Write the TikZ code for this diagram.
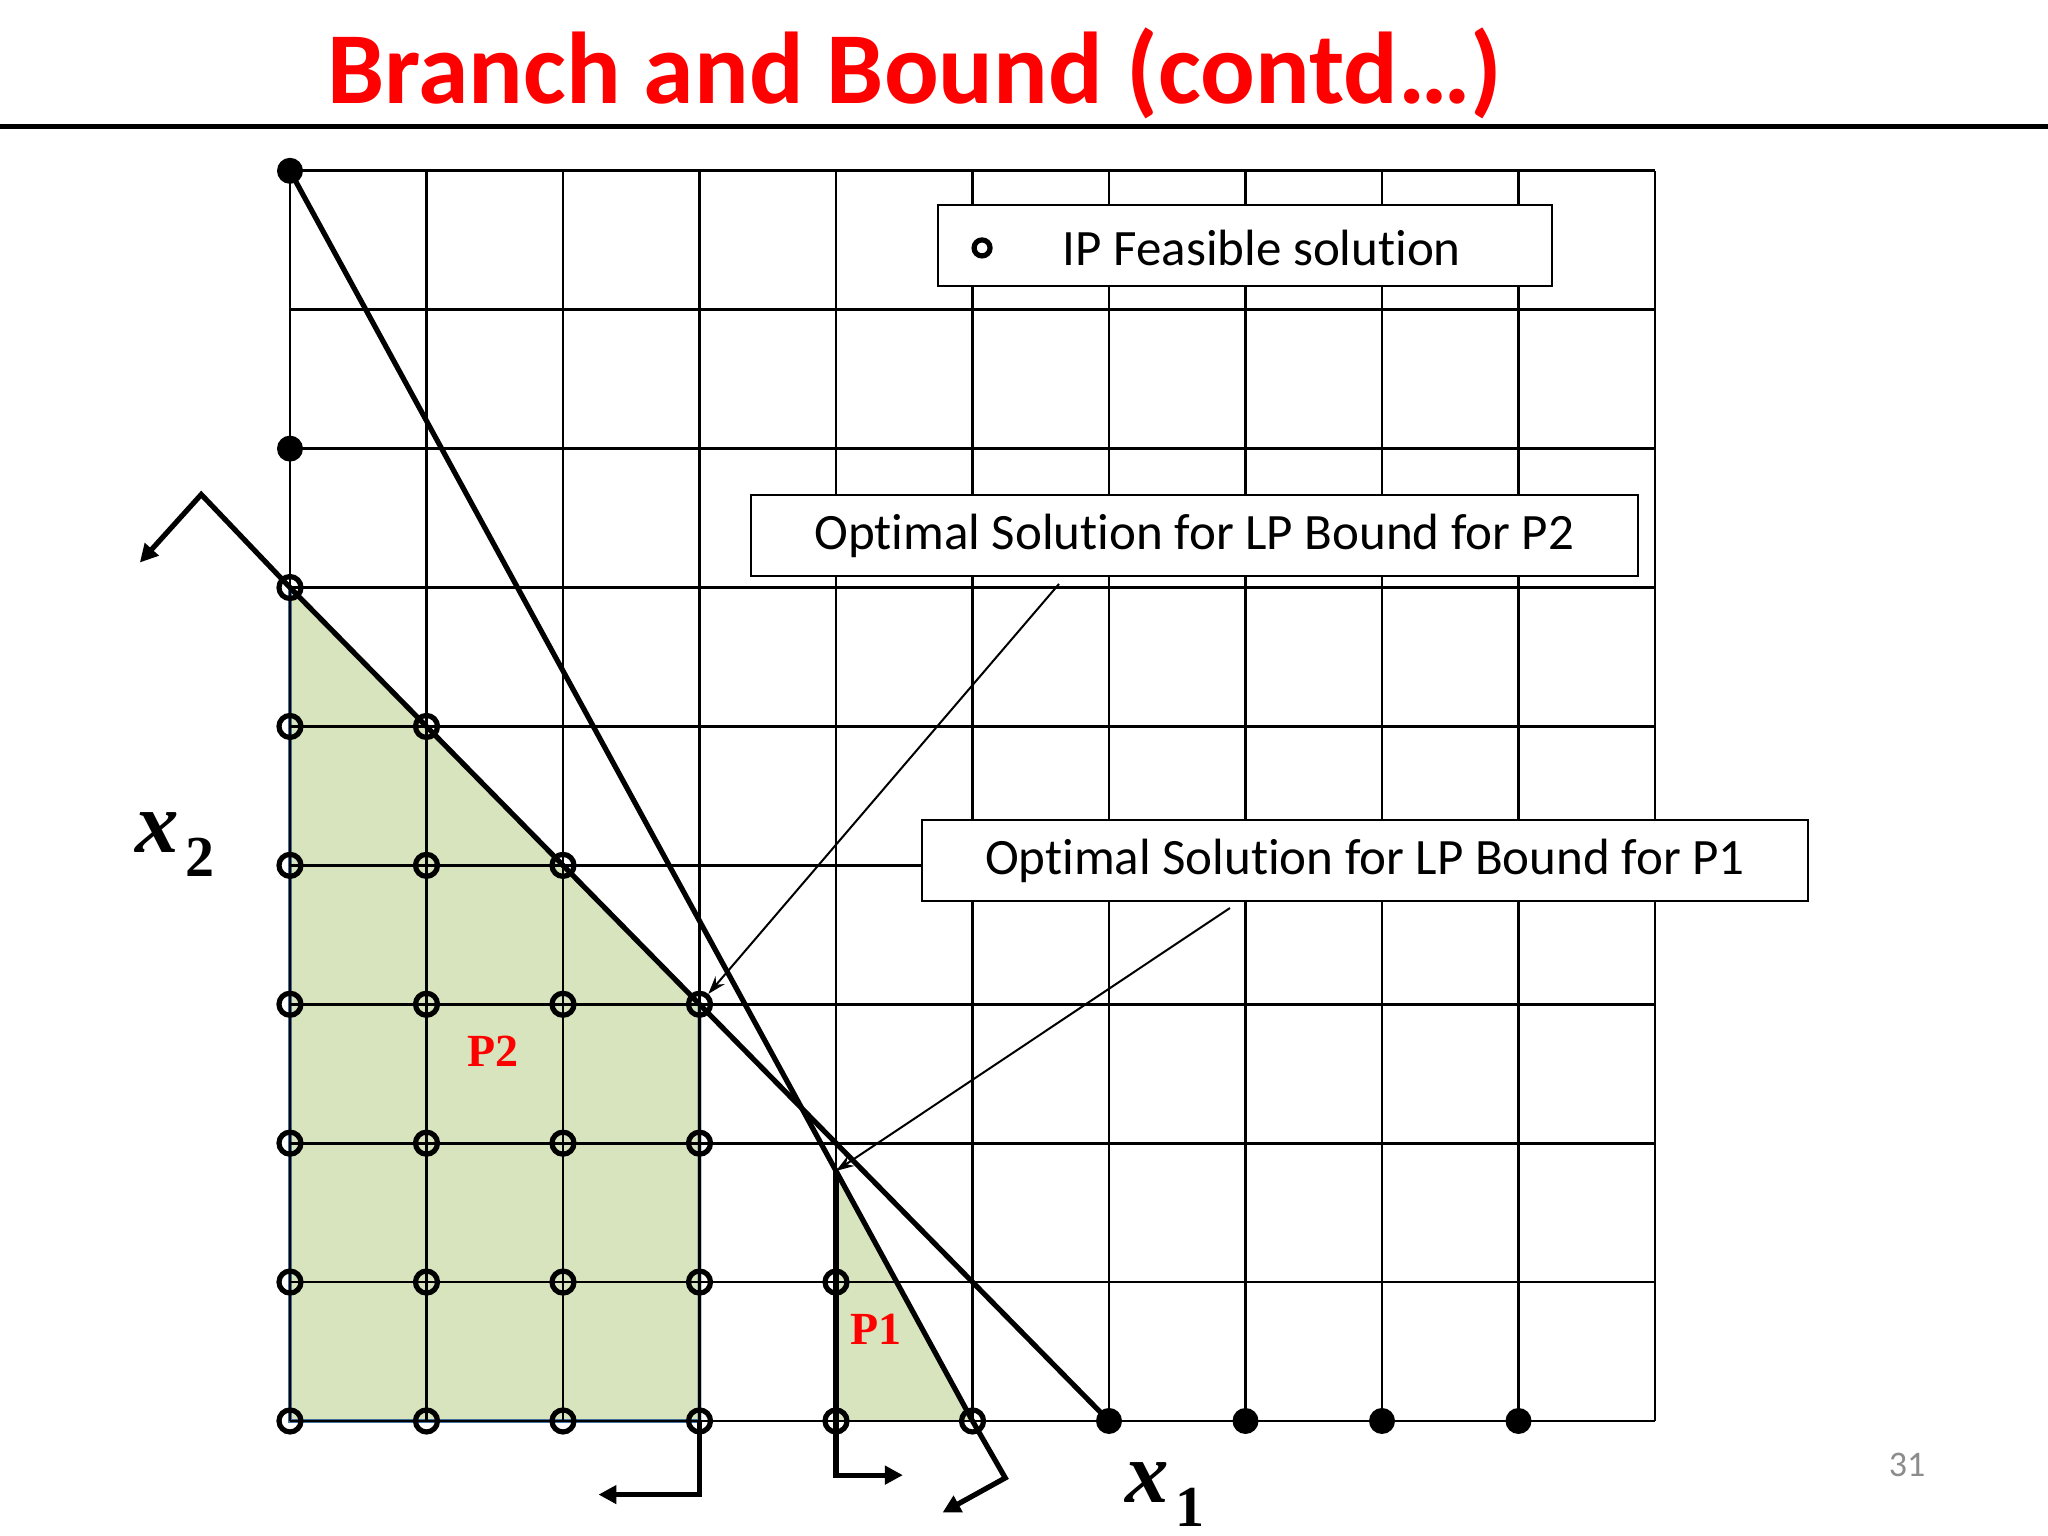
\documentclass[tikz,border=0pt]{standalone}
\usepackage{fontspec}
\setmainfont{Carlito}[Ligatures=NoCommon]
\newfontfamily\tnr{Liberation Serif}
\usetikzlibrary{arrows.meta,calc}
\definecolor{titlered}{HTML}{FF0000}
\definecolor{pgreen}{HTML}{D7E4BD}
\definecolor{pblue}{HTML}{41719C}
\definecolor{pgray}{HTML}{8C8C8C}
\tikzset{
 gridline/.style={line width=1.4pt},
 branch/.style={line width=2.6pt, line join=miter, -{Triangle[length=9pt,width=9pt]}},
 pointer/.style={line width=1pt, -{Stealth[length=9pt,width=6pt]}},
 ipt/.style={circle, draw, line width=2.6pt, inner sep=0pt, minimum size=11pt},
 fdot/.style={circle, fill, inner sep=0pt, minimum size=13pt},
 box/.style={draw, line width=1pt, fill=white, inner sep=0pt, minimum height=40.5pt, font=\fontsize{25.5}{30}\selectfont},
 plabel/.style={text=titlered, font=\tnr\bfseries\fontsize{23}{25}\selectfont, inner sep=0pt},
 axlabel/.style={anchor=base west, inner sep=0pt, font=\tnr\bfseries},
}
\begin{document}
\begin{tikzpicture}[x=68.25pt,y=69.45pt]
\useasboundingbox (-2.1245,-0.828) rectangle (12.879,10.230);
\foreach \i in {0,...,10}{\foreach \j in {0,...,9}{\coordinate (p-\i-\j) at (\i,\j);}}
\coordinate (opt1) at (4,1.8);
% title and rule
\node[font=\bfseries\fontsize{51}{55}\selectfont, text=titlered, anchor=base, inner sep=0pt] (title) at (4.575,9.482) {Branch and Bound (contd…)};
\draw[line width=2.5pt] (-2.1245,9.316) -- (12.879,9.316);
% feasible regions
\filldraw[fill=pgreen, draw=pblue, line width=1.8pt] (p-0-0) -- (p-0-6) -- (p-3-3) -- (p-3-0) -- cycle;
\fill[pgreen] (p-4-0) -- (opt1) -- (p-5-0) -- cycle;
% grid
\foreach \i in {0,...,10} \draw[gridline] (p-\i-0) -- (p-\i-9);
\foreach \j in {0,...,9} \draw[gridline] (p-0-\j) -- (p-10-\j);
% boxes
\node[box, minimum width=443.5pt] (boxP2) at (6.626,6.375) {Optimal Solution for LP Bound for P2};
\node[box, minimum width=443pt] (boxP1) at (7.875,4.035) {Optimal Solution for LP Bound for P1};
\node[box, minimum width=307pt] (legend) at (6.996,8.463) {};
\node[ipt, minimum size=8pt] (legcirc) at (5.07,8.445) {};
\node[anchor=base, inner sep=0pt, font=\fontsize{25.5}{30}\selectfont] (legtext) at (7.12,8.32) {IP Feasible solution};
% constraint lines and branches
\coordinate (a1) at (5.24,-0.41);
\coordinate (a2) at (4.78,-0.66);
\draw[branch] (p-0-9) -- (p-5-0) -- (a1) -- (a2);
\coordinate (b1) at (-0.65,6.67);
\coordinate (b2) at (-1.10,6.18);
\draw[branch] (p-6-0) -- (p-0-6) -- (b1) -- (b2);
\coordinate (c1) at (4,-0.39);
\coordinate (c2) at (4.49,-0.39);
\draw[branch] (opt1) -- (c1) -- (c2);
\coordinate (d1) at (3,-0.53);
\coordinate (d2) at (2.26,-0.53);
\draw[branch] (p-3-0) -- (d1) -- (d2);
% points
\foreach \i/\j in {0/9,0/7,6/0,7/0,8/0,9/0} \node[fdot] (f-\i-\j) at (p-\i-\j) {};
\foreach \i/\j in {0/0,1/0,2/0,3/0,0/1,1/1,2/1,3/1,0/2,1/2,2/2,3/2,0/3,1/3,2/3,3/3,0/4,1/4,2/4,0/5,1/5,0/6,4/0,5/0,4/1}
  \node[ipt] (o-\i-\j) at (p-\i-\j) {};
% pointers
\coordinate (s2) at (5.634,6.026);
\draw[pointer] (s2) -- (o-3-3);
\coordinate (s1) at (6.886,3.693);
\draw[pointer] (s1) -- (opt1);
% labels
\node[plabel] (lP2) at (1.49,2.66) {P2};
\node[plabel] (lP1) at (4.29,0.66) {P1};
\node[axlabel] (x2lab) at (-1.1355,4.089) {\fontsize{43.5}{45}\selectfont\itshape x\kern3.5pt\raisebox{-12pt}{\fontsize{29}{30}\selectfont\upshape 2}};
\node[axlabel] (x1lab) at (6.117,-0.590) {\fontsize{43.5}{45}\selectfont\itshape x\kern3.5pt\raisebox{-12pt}{\fontsize{29}{30}\selectfont\upshape 1}};
\node[text=pgray, font=\fontsize{18}{20}\selectfont] (pnum) at (11.846,-0.317) {31};
\end{tikzpicture}
\end{document}
